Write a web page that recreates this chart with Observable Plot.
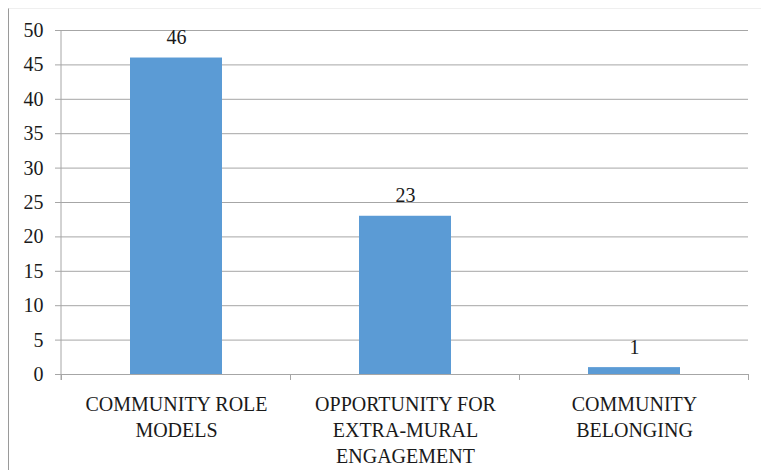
<!DOCTYPE html>
<html>
<head>
<meta charset="utf-8">
<script src="https://cdn.jsdelivr.net/npm/d3@7"></script>
<script src="https://cdn.jsdelivr.net/npm/@observablehq/plot@0.6"></script>
<style>
  html, body { margin: 0; padding: 0; background: #fff; }
  #wrap { position: relative; width: 761px; height: 470px; overflow: hidden; }
  #frame { position: absolute; left: 8px; top: 8px; width: 760px; height: 470px;
           border-left: 1px solid #9a9a9a; border-top: 1px solid #efefef; box-sizing: border-box; }
  #chart { position: absolute; left: 0; top: 0; }
  #chart svg, #chart svg text { font-family: "Liberation Serif", "DejaVu Serif", serif !important; }
</style>
</head>
<body>
<div id="wrap"><div id="frame"></div><div id="chart"></div></div>
<script>
const categories = ["COMMUNITY ROLE MODELS", "OPPORTUNITY FOR EXTRA-MURAL ENGAGEMENT", "COMMUNITY BELONGING"];
const tickLabels = ["COMMUNITY ROLE\nMODELS", "OPPORTUNITY FOR\nEXTRA-MURAL\nENGAGEMENT", "COMMUNITY\nBELONGING"];
const values = [46, 23, 1];
const yTicks = [0, 5, 10, 15, 20, 25, 30, 35, 40, 45, 50];

const data = categories.map((c, i) => ({category: c, value: values[i], label: tickLabels[i]}));
const labelOf = new Map(categories.map((c, i) => [c, tickLabels[i]]));

const font = "'Liberation Serif', 'DejaVu Serif', serif";
const gridColor = "#a6a6a6";

// y axis line and category boundary ticks along the x axis
function axisLines(index, scales, values, dims) {
  const x = scales.x;
  const step = x.step();
  const bw = x.bandwidth();
  const y0 = scales.y(0);
  const yTop = scales.y(yTicks[yTicks.length - 1]);
  const g = d3.create("svg:g");
  g.append("line").attr("x1", dims.marginLeft).attr("x2", dims.marginLeft)
    .attr("y1", yTop).attr("y2", y0 + 6).attr("stroke", gridColor);
  const xs = categories.map(c => x(c) - (step - bw) / 2);
  xs.push(x(categories[categories.length - 1]) + bw + (step - bw) / 2);
  for (const px of xs) {
    g.append("line").attr("x1", px).attr("x2", px).attr("y1", y0).attr("y2", y0 + 6)
      .attr("stroke", gridColor).attr("stroke-width", 1);
  }
  return g.node();
}

const chart = Plot.plot({
  width: 761,
  height: 470,
  marginLeft: 61,
  marginRight: 13,
  marginTop: 30,
  marginBottom: 96,
  style: {fontFamily: font, fontSize: "20px", color: "#1a1a1a", background: "transparent"},
  x: {domain: categories, paddingInner: 0.6, paddingOuter: 0.3, label: null},
  y: {domain: [0, 50], label: null},
  marks: [
    Plot.gridY(yTicks, {stroke: gridColor, strokeOpacity: 1, strokeWidth: 1}),
    Plot.axisY(yTicks, {tickSize: 6, tickPadding: 12, stroke: gridColor, fill: "#1a1a1a", fontSize: 20, fontFamily: font, label: null}),
    Plot.axisX({tickSize: 0, tickPadding: 18, tickFormat: d => labelOf.get(d), fontSize: 20, fontFamily: font, lineHeight: 1.3, lineAnchor: "top", fill: "#1a1a1a", label: null}),
    Plot.barY(data, {x: "category", y: "value", fill: "#5B9BD5"}),
    Plot.text(data, {x: "category", y: "value", text: d => String(d.value), lineAnchor: "bottom", dy: -14, fontSize: 20, fontFamily: font, fill: "#1a1a1a"}),
    axisLines
  ]
});
document.getElementById("chart").appendChild(chart);
</script>
</body>
</html>
